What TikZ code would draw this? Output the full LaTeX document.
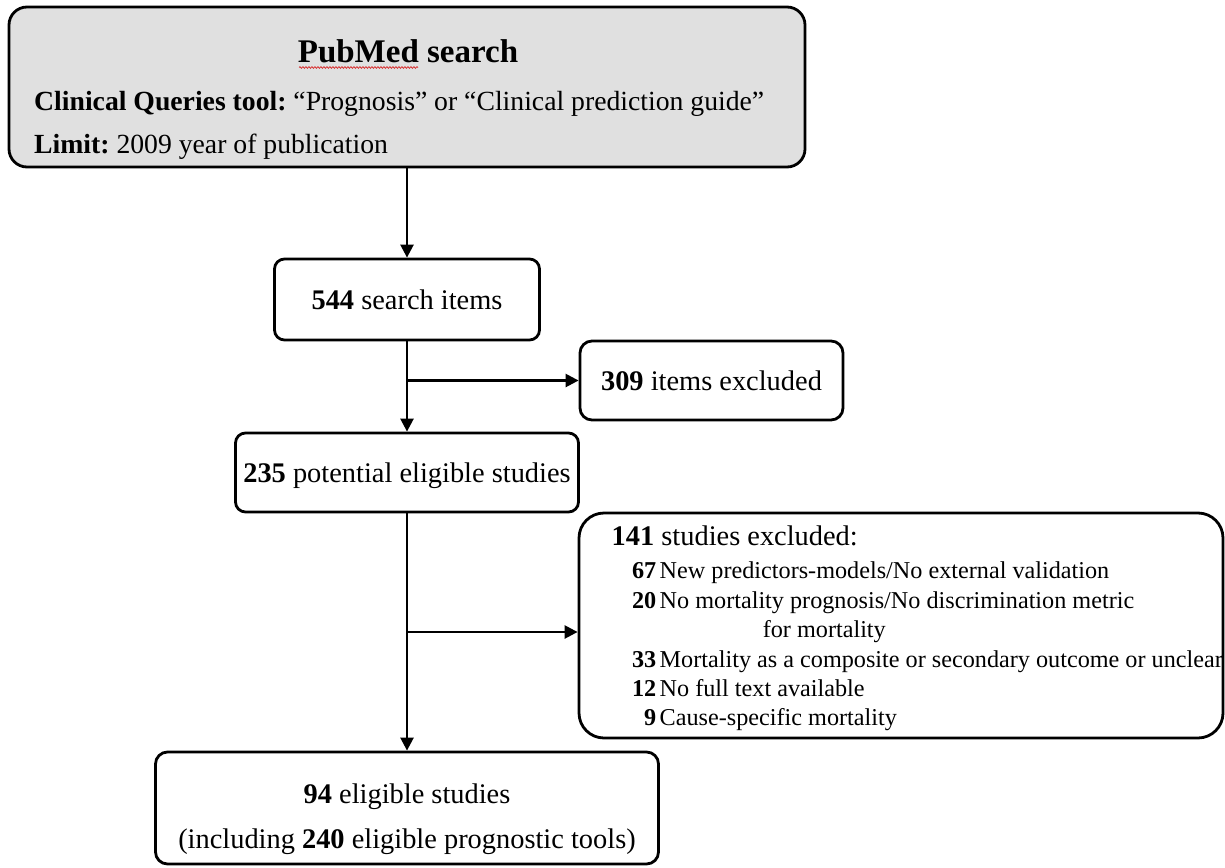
\documentclass[tikz,border=0pt]{standalone}
\usepackage{fontspec}
\setmainfont{Liberation Serif}
\usetikzlibrary{arrows.meta,decorations.pathmorphing}
\definecolor{topgray}{RGB}{224,224,224}
\definecolor{squig}{RGB}{215,40,40}
\newcommand\exnum[1]{\makebox[24.5pt][r]{\textbf{#1}}\hspace{3.5pt}}
\frenchspacing
\begin{document}
\begin{tikzpicture}[x=1pt,y=-1pt,
  box/.style={draw=black, line width=2.8pt, rectangle, inner sep=0pt},
  arr/.style={draw=black, line width=2.5pt, -{Triangle[length=13pt,width=13pt]}},
  fbig/.style={font=\fontsize{28.4}{34}\selectfont},
  fmid/.style={font=\fontsize{27.7}{33}\selectfont},
  fsmall/.style={font=\fontsize{24.2}{29}\selectfont},
  txt/.style={inner sep=0pt},
  boxtxt/.style={fbig, text height=20pt, text depth=0pt}]
\useasboundingbox (0,0) rectangle (1225,867);
% boxes
\node[box, fill=topgray, rounded corners=18pt, minimum width=796pt, minimum height=160pt] (pub) at (407,87) {};
\node[box, boxtxt, rounded corners=10pt, minimum width=265pt, minimum height=81pt] (s544) at (407,299.5) {\textbf{544} search items};
\node[box, boxtxt, rounded corners=12pt, minimum width=263pt, minimum height=79pt] (e309) at (711.5,380.5) {\textbf{309} items excluded};
\node[box, boxtxt, rounded corners=10pt, minimum width=343pt, minimum height=79pt] (s235) at (407,472.5) {\textbf{235} potential eligible studies};
\node[box, rounded corners=25pt, minimum width=644pt, minimum height=225pt] (e141) at (901,625.5) {};
\node[box, rounded corners=12pt, minimum width=503pt, minimum height=112pt] (s94) at (407,808) {};
% top box text
\node[txt, anchor=base, font=\fontsize{33}{40}\selectfont\bfseries] (title) at (408,63) {PubMed search};
\draw[squig, line width=0.7pt, decorate, decoration={snake, amplitude=0.9pt, segment length=3pt}] (299,67.5) -- (418,67.5);
\node[txt, fmid, anchor=base west] (q1) at (34,110) {\textbf{Clinical Queries tool:} “Prognosis” or “Clinical prediction guide”};
\node[txt, fmid, anchor=base west] (q2) at (34,153) {\textbf{Limit:} 2009 year of publication};
% excluded list
\node[txt, fbig, anchor=base west] (h141) at (611.5,545) {\textbf{141} studies excluded:};
\node[txt, fsmall, anchor=base west] (i1) at (631.5,578) {\exnum{67}New predictors-models/No external validation};
\node[txt, fsmall, anchor=base west] (i2) at (631.5,608) {\exnum{20}No mortality prognosis/No discrimination metric};
\node[txt, fsmall, anchor=base west] (i2b) at (762.6,637) {for mortality};
\node[txt, fsmall, anchor=base west] (i3) at (631.5,667) {\exnum{33}Mortality as a composite or secondary outcome or unclear};
\node[txt, fsmall, anchor=base west] (i4) at (631.5,696) {\exnum{12}No full text available};
\node[txt, fsmall, anchor=base west] (i5) at (631.5,725) {\exnum{9}Cause-specific mortality};
% final box text
\node[txt, fbig, anchor=base] (t94a) at (407,803) {\textbf{94} eligible studies};
\node[txt, fbig, anchor=base] (t94b) at (407,848) {(including \textbf{240} eligible prognostic tools)};
% connectors
\coordinate (b1) at (407,380.5);
\coordinate (b2) at (407,632);
\draw[arr] (pub.south) -- (s544.north);
\draw[arr] (s544.south) -- (s235.north);
\draw[arr] (b1) -- (e309.west);
\draw[arr] (s235.south) -- (s94.north);
\draw[arr] (b2) -- (b2 -| e141.west);
\end{tikzpicture}
\end{document}
